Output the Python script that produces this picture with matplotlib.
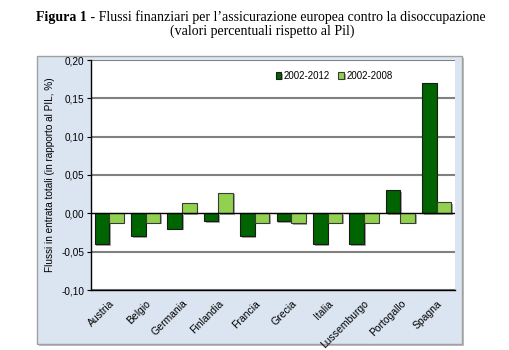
import matplotlib
matplotlib.use("Agg")
import matplotlib.pyplot as plt
import matplotlib.patheffects as pe
from matplotlib.patches import Rectangle
from matplotlib.ticker import FuncFormatter
import numpy as np

countries = ["Austria", "Belgio", "Germania", "Finlandia", "Francia", "Grecia",
             "Italia", "Lussemburgo", "Portogallo", "Spagna"]
s2012 = [-0.040, -0.030, -0.020, -0.010, -0.030, -0.010, -0.040, -0.040, 0.030, 0.170]
s2008 = [-0.012, -0.012, 0.014, 0.027, -0.012, -0.0125, -0.012, -0.012, -0.012, 0.015]
series_names = ["2002-2012", "2002-2008"]
yticks = [-0.10, -0.05, 0.00, 0.05, 0.10, 0.15, 0.20]

W, H = 509, 350
fig = plt.figure(figsize=(W / 100, H / 100), dpi=100)

# outer chart frame
frame = Rectangle((37 / W, 1 - 344 / H), (462 - 37) / W, (344 - 56) / H,
                  transform=fig.transFigure, facecolor="#dbe5f1", edgecolor="#a0a0a0",
                  linewidth=1.0, zorder=-1,
                  path_effects=[pe.SimplePatchShadow(offset=(1.5, -1.5), shadow_rgbFace="#b0b0b0", alpha=0.8), pe.Normal()])
fig.patches.append(frame)

ax = fig.add_axes([91 / W, 1 - 290 / H, (455 - 91) / W, (290 - 60) / H])
ax.set_zorder(2)
ax.set_facecolor("white")

x = np.arange(len(countries))
bw = 0.4
shadow = [pe.SimplePatchShadow(offset=(1.2, -1.2), shadow_rgbFace="#808080", alpha=0.7), pe.Normal()]
b1 = ax.bar(x - bw / 2, s2012, bw, color="#006400", edgecolor="#1a1a1a", linewidth=0.8,
            label=series_names[0], zorder=3, path_effects=shadow)
b2 = ax.bar(x + bw / 2, s2008, bw, color="#92d050", edgecolor="#3a3a3a", linewidth=0.8,
            label=series_names[1], zorder=3, path_effects=shadow)

ax.set_xlim(-0.5, len(countries) - 0.5)
ax.set_ylim(-0.10, 0.20)
ax.set_yticks(yticks)
ax.yaxis.set_major_formatter(FuncFormatter(lambda v, p: f"{v:.2f}".replace(".", ",").replace("-0,00", "0,00")))
for yv in yticks:
    if abs(yv) < 1e-9:
        continue
    ax.axhline(yv, color="#808080", linewidth=1.5, zorder=1)
ax.axhline(0, color="black", linewidth=1.0, zorder=4)

for s in ["top", "right"]:
    ax.spines[s].set_visible(False)
ax.spines["left"].set_linewidth(1.0)
ax.spines["bottom"].set_linewidth(1.0)

ax.set_xticks(x)
ax.set_xticklabels(countries, rotation=45, ha="right", va="top", rotation_mode="anchor",
                   fontsize=7.5, family="Liberation Sans")
ax.tick_params(axis="x", length=0, pad=6)
ax.tick_params(axis="y", length=3, width=0.8, pad=2, labelsize=7.2)
for lab in ax.get_yticklabels():
    lab.set_family("Liberation Sans")

ax.set_ylabel("Flussi in entrata totali (in rapporto al PIL, %)", fontsize=7.2,
              family="Liberation Sans", labelpad=4)

leg = ax.legend(handles=[b1, b2], ncol=2, frameon=False, loc="center",
                bbox_to_anchor=(334 / W, 1 - 76 / H), bbox_transform=fig.transFigure,
                prop={"family": "Liberation Sans", "size": 7},
                handlelength=0.6, handleheight=0.6, handletextpad=0.2, columnspacing=0.9)

# title
t1 = fig.text(36 / W, 1 - 17 / H, "Figura 1", fontsize=10, fontweight="bold",
              family="Liberation Serif", ha="left", va="center")
fig.canvas.draw()
ax.annotate(" - Flussi finanziari per l\u2019assicurazione europea contro la disoccupazione",
            xy=(1, 0), xycoords=t1, va="bottom", ha="left", fontsize=10,
            family="Liberation Serif", annotation_clip=False)
fig.text(262 / W, 1 - 31 / H, "(valori percentuali rispetto al Pil)", fontsize=10,
         family="Liberation Serif", ha="center", va="center")

fig.savefig("out.png", dpi=100)
